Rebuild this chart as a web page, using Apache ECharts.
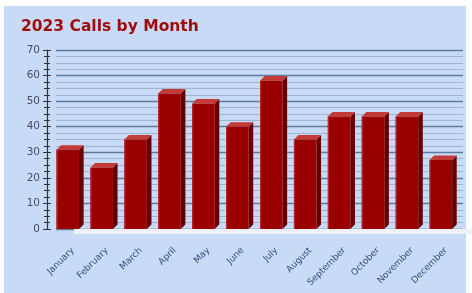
<!DOCTYPE html>
<html><head><meta charset="utf-8">
<script src="https://cdn.jsdelivr.net/npm/echarts@6/dist/echarts.min.js"></script>
<style>html,body{margin:0;padding:0;background:#fff}#c{width:472px;height:293px}</style>
</head><body><div id="c"></div>
<script>
const categories = ['January','February','March','April','May','June','July','August','September','October','November','December'];
const calls = [31, 24, 35, 53, 49, 40, 58, 35, 44, 44, 44, 27];
const yTicks = [0, 10, 20, 30, 40, 50, 60, 70];

const chart = echarts.init(document.getElementById('c'), null, {renderer: 'canvas'});
const yMin = yTicks[0], yMax = yTicks[yTicks.length - 1], yStep = yTicks[1] - yTicks[0];

function barItem(params, api) {
  const idx = api.value(0), v = api.value(1);
  const top = api.coord([idx, v]);
  const base = api.coord([idx, 0]);
  const bw = api.size([1, 0])[0];
  const x0 = top[0] - bw / 2 + 0.5;
  const w = bw * 0.665;
  const d = bw * 0.135;
  const yT = top[1], yB = base[1];
  return {
    type: 'group',
    children: [
      {type: 'polygon', shape: {points: [[x0 + w, yT], [x0 + w + d, yT - d], [x0 + w + d, yB - d], [x0 + w, yB]]}, style: {fill: '#640000'}},
      {type: 'polygon', shape: {points: [[x0, yT], [x0 + d, yT - d], [x0 + w + d, yT - d], [x0 + w, yT]]}, style: {fill: '#c33a36'}},
      {type: 'rect', shape: {x: x0, y: yT, width: w, height: yB - yT}, style: {fill: '#9a0000'}},
      {type: 'rect', shape: {x: x0, y: yT, width: 1.2, height: yB - yT}, style: {fill: '#b52a2a'}}
    ]
  };
}

function floorItem(params, api) {
  const a = api.coord([-0.5, 0]);
  const b = api.coord([categories.length - 0.5, 0]);
  const d = 5;
  return {
    type: 'polygon',
    shape: {points: [[a[0] + 1, a[1]], [b[0], b[1]], [b[0] - 3, b[1] + d], [a[0] + 1, a[1] + d]]},
    style: {fill: '#eef2f8'}
  };
}

chart.setOption({
  animation: false,
  backgroundColor: '#ffffff',
  graphic: [{type: 'rect', z: -10, shape: {x: 4, y: 6, width: 462, height: 287}, style: {fill: '#c7daf6'}}],
  title: {
    text: '2023 Calls by Month', left: 16, top: 14,
    textStyle: {fontFamily: 'DejaVu Sans', fontWeight: 'bold', fontSize: 15.5, color: '#9e0b0b'}
  },
  grid: {left: 56, right: 9, top: 50, bottom: 64, containLabel: false, outerBoundsMode: 'none'},
  xAxis: {
    type: 'category', data: categories,
    axisLine: {show: false}, axisTick: {show: false},
    axisLabel: {rotate: 45, margin: 20, fontFamily: 'DejaVu Sans', fontSize: 9, color: '#34507a', interval: 0}
  },
  yAxis: [{
    type: 'value', min: yMin, max: yMax, interval: yStep, offset: 9,
    axisLine: {show: true, lineStyle: {color: '#333', width: 1.2}},
    axisTick: {show: true, length: 4, lineStyle: {color: '#333'}},
    minorTick: {show: true, splitNumber: 4, length: 3, lineStyle: {color: '#333'}},
    axisLabel: {margin: 7, fontFamily: 'DejaVu Sans', fontSize: 10.5, color: '#4d4a66'},
    splitLine: {show: true, lineStyle: {color: '#5c7e9c', width: 1.3}},
    minorSplitLine: {show: true, lineStyle: {color: '#9fb5cc', width: 1}}
  }, {
    type: 'value', min: yMin, max: yMax, interval: yStep, offset: 9, position: 'left',
    axisLine: {show: false},
    axisTick: {show: true, inside: true, length: 4, lineStyle: {color: '#333'}},
    minorTick: {show: true, splitNumber: 4, length: 3, lineStyle: {color: '#333'}},
    axisLabel: {show: false}, splitLine: {show: false}
  }],
  series: [{
    type: 'custom', renderItem: floorItem, data: [[0, 0]], z: 1, silent: true
  }, {
    type: 'custom', renderItem: barItem, z: 2,
    encode: {x: 0, y: 1},
    data: calls.map((v, i) => [i, v])
  }]
});
</script></body></html>
